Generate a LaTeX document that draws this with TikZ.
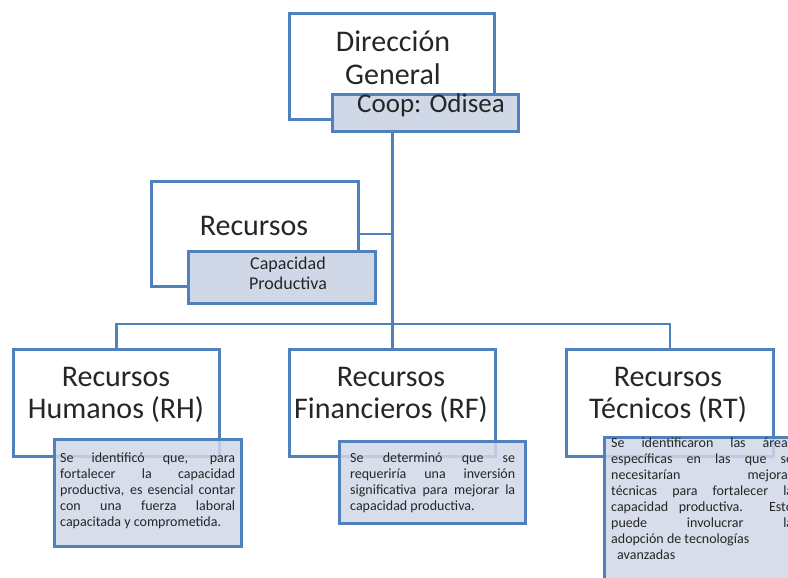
\documentclass[tikz,border=0pt]{standalone}
\usepackage{fontspec}
\setmainfont{Carlito}
\definecolor{bord}{HTML}{4F81BD}
\definecolor{notefill}{HTML}{D0D8E8}
\begin{document}
\begin{tikzpicture}[x=1pt,y=-1pt,
  mainbox/.style={draw=bord, line width=2.6pt, fill=white, inner sep=0pt, anchor=north west},
  subbox/.style={draw=bord, line width=2.6pt, fill=notefill, inner sep=0pt, anchor=north west},
  notebox/.style={draw=bord, line width=2.6pt, fill=notefill, fill opacity=0.85, inner sep=0pt, anchor=north west},
  bigtext/.style={align=center, font=\fontsize{30}{32}\selectfont, text=black!85, inner sep=0pt},
  notetext/.style={anchor=north west, inner sep=0pt, align=justify, font=\fontsize{14}{16}\selectfont, text=black!85},
  conn/.style={draw=bord, line width=2.6pt}
]
\clip (0,0) rectangle (788,578);
\fill[white] (0,0) rectangle (788,578);

% top
\node[mainbox, minimum width=205pt, minimum height=106pt] (dg) at (288,12) {};
\node[bigtext, font=\fontsize{30}{33}\selectfont] (dgt) at (393,58) {Dirección\\General};
\node[subbox, minimum width=186pt, minimum height=37pt] (coop) at (331,93) {};
\node[inner sep=0pt, font=\fontsize{27}{30}\selectfont, text=black!85] (coopt) at (431,105) {Coop: Odisea};

% recursos
\node[mainbox, minimum width=207pt, minimum height=105pt] (rec) at (150,180) {};
\node[bigtext] (rect) at (254,226) {Recursos};
\node[subbox, minimum width=187pt, minimum height=52pt] (cap) at (187,250) {};
\node[align=center, inner sep=0pt, font=\fontsize{18}{20}\selectfont, text=black!85] (capt) at (288,273) {Capacidad\\Productiva};

% lower boxes
\node[mainbox, minimum width=206pt, minimum height=107pt] (rh) at (12,348) {};
\node[mainbox, minimum width=206pt, minimum height=107pt] (rf) at (288,348) {};
\node[mainbox, minimum width=207pt, minimum height=107pt] (rt) at (565,348) {};
\node[bigtext] (rht) at (116,395) {Recursos\\Humanos (RH)};
\node[bigtext] (rft) at (391,395) {Recursos\\Financieros (RF)};
\node[bigtext] (rtt) at (668,395) {Recursos\\Técnicos (RT)};

% connectors
\coordinate (bus) at (391,324);
\draw[conn] (coop.south -| rf.north) -- (rf.north);
\draw[conn] (rec.east) -- (rec.east -| rf.north);
\draw[conn] (rh.north) |- (bus) -| (rt.north);

% notes
\node[notebox, minimum width=187pt, minimum height=107pt] (rhn) at (53,438) {};
\node[notetext, text width=175pt] (rhnt) at (60,453) {Se identificó que, para\linebreak fortalecer la capacidad\linebreak productiva, es esencial contar\linebreak con una fuerza laboral\linebreak capacitada y comprometida.};

\node[notebox, minimum width=186pt, minimum height=82pt] (rfn) at (338,440) {};
\node[notetext, text width=165pt] (rfnt) at (350,453) {Se determinó que se\linebreak requeriría una inversión\linebreak significativa para mejorar la\linebreak capacidad productiva.};

\node[notebox, minimum width=200pt, minimum height=150pt] (rtn) at (603,436) {};
\node[notetext, text width=182pt] (rtnt) at (611,438) {Se identificaron las áreas\linebreak específicas en las que se\linebreak necesitarían mejoras\linebreak técnicas para fortalecer la\linebreak capacidad productiva. Esto\linebreak puede involucrar la\linebreak adopción de tecnologías\newline\hspace*{6pt}avanzadas};
\end{tikzpicture}
\end{document}
